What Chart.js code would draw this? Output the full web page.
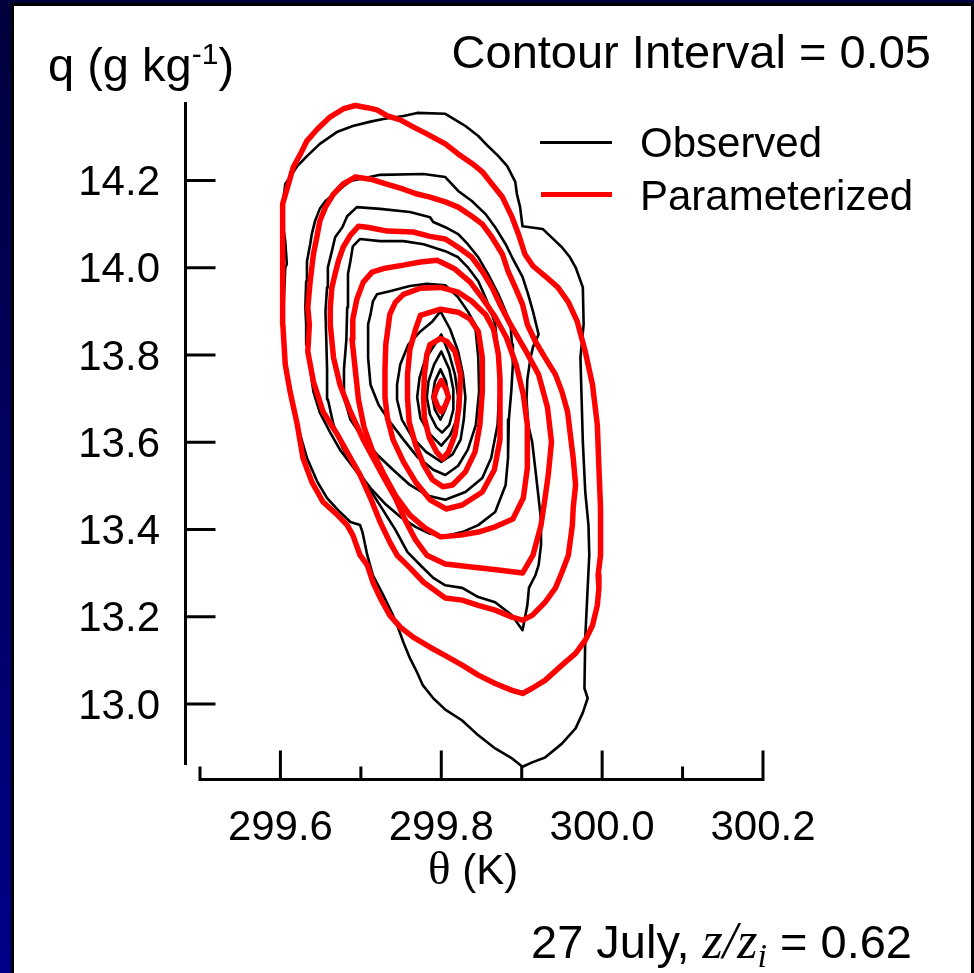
<!DOCTYPE html>
<html>
<head>
<meta charset="utf-8">
<script src="https://cdn.jsdelivr.net/npm/chart.js@4.4.0/dist/chart.umd.min.js"></script>
<style>
  html, body { margin: 0; padding: 0; }
  body {
    width: 974px; height: 973px; overflow: hidden; position: relative;
    background: linear-gradient(to bottom, #00003c 0%, #000088 100%);
    font-family: "Liberation Sans", Arial, sans-serif; color: #000;
  }
  #panel {
    position: absolute; left: 11px; top: 3px; width: 963px; height: 980px;
    background: #fff; box-sizing: border-box;
    border-left: 3px solid #000; border-top: 3px solid #000; border-right: 3px solid #000;
  }
  #chart { position: absolute; left: 0; top: 0; }
  .t { position: absolute; white-space: nowrap; line-height: 1; }
  .big { font-size: 47px; }
  .mid { font-size: 42px; }
  .serif { font-family: "Liberation Serif", "Times New Roman", serif; }
  .swatch { position: absolute; height: 0; }
</style>
</head>
<body>
<div id="panel"></div>
<canvas id="chart" width="974" height="973"></canvas>

<div class="t big" style="left:48px; top:41px;">q (g kg<span style="font-size:30px; position:relative; top:-17px;">-1</span>)</div>
<div class="t big" style="right:43px; top:28px;">Contour Interval = 0.05</div>

<div class="swatch" style="left:540px; top:141px; width:72px; border-top:3px solid #000;"></div>
<div class="t mid" style="left:640px; top:122px;">Observed</div>
<div class="swatch" style="left:541px; top:192px; width:71px; border-top:5px solid #ff0000;"></div>
<div class="t mid" style="left:640px; top:175px;">Parameterized</div>

<div class="t mid" style="left:428px; top:845px;"><span class="serif" style="font-size:47px;">&theta;</span> (K)</div>
<div class="t big" style="right:62px; top:915px;">27 July, <span class="serif" style="font-style:italic; font-size:52px;">z/z<span style="font-size:34px; position:relative; top:9px;">i</span></span> = 0.62</div>

<script>
// axis ticks
const xMajorTicks = [299.6, 299.8, 300.0, 300.2];
const xMinorTicks = [299.5, 299.7, 299.9, 300.1];
const yTicks = [13.0, 13.2, 13.4, 13.6, 13.8, 14.0, 14.2];

// observed contours (theta K, q g/kg), outermost first
const obs1 = [[299.690,14.325],[299.712,14.335],[299.728,14.341],[299.753,14.348],[299.770,14.355],[299.805,14.353],[299.821,14.335],[299.830,14.325],[299.846,14.302],[299.858,14.279],[299.871,14.256],[299.882,14.233],[299.892,14.197],[299.894,14.169],[299.898,14.139],[299.901,14.095],[299.926,14.089],[299.942,14.061],[299.950,14.047],[299.960,14.024],[299.967,14.001],[299.976,13.955],[299.977,13.870],[299.973,13.794],[299.976,13.601],[299.979,13.486],[299.983,13.410],[299.984,13.341],[299.982,13.266],[299.979,13.151],[299.978,13.036],[299.982,13.013],[299.976,12.980],[299.967,12.944],[299.950,12.909],[299.929,12.877],[299.913,12.866],[299.901,12.856],[299.888,12.875],[299.867,12.898],[299.846,12.928],[299.826,12.962],[299.805,12.987],[299.790,13.013],[299.777,13.043],[299.770,13.072],[299.761,13.105],[299.753,13.141],[299.746,13.176],[299.740,13.203],[299.728,13.249],[299.715,13.295],[299.708,13.341],[299.702,13.394],[299.699,13.410],[299.687,13.417],[299.674,13.440],[299.658,13.472],[299.646,13.509],[299.633,13.564],[299.621,13.640],[299.612,13.716],[299.606,13.794],[299.603,13.870],[299.606,14.001],[299.608,14.008],[299.606,14.061],[299.603,14.100],[299.603,14.146],[299.606,14.192],[299.612,14.208],[299.621,14.233],[299.633,14.256],[299.649,14.284],[299.671,14.312]];
const obs2 = [[299.687,14.199],[299.724,14.213],[299.778,14.215],[299.805,14.208],[299.821,14.176],[299.838,14.153],[299.855,14.123],[299.867,14.093],[299.880,14.054],[299.888,14.024],[299.901,13.979],[299.908,13.939],[299.914,13.900],[299.918,13.870],[299.921,13.847],[299.914,13.818],[299.911,13.794],[299.907,13.744],[299.906,13.698],[299.908,13.640],[299.913,13.601],[299.917,13.537],[299.921,13.472],[299.924,13.422],[299.924,13.364],[299.921,13.318],[299.917,13.295],[299.909,13.266],[299.907,13.226],[299.901,13.169],[299.888,13.203],[299.867,13.233],[299.846,13.245],[299.826,13.266],[299.805,13.272],[299.790,13.289],[299.774,13.318],[299.758,13.348],[299.743,13.399],[299.726,13.449],[299.709,13.498],[299.690,13.544],[299.674,13.583],[299.662,13.622],[299.649,13.668],[299.641,13.716],[299.637,13.767],[299.633,13.824],[299.632,13.870],[299.631,13.909],[299.632,13.969],[299.633,14.015],[299.637,14.054],[299.639,14.077],[299.643,14.107],[299.649,14.135],[299.656,14.153],[299.671,14.176]];
const obs3 = [[299.695,14.139],[299.724,14.135],[299.761,14.128],[299.786,14.116],[299.790,14.105],[299.805,14.093],[299.821,14.077],[299.833,14.054],[299.846,14.024],[299.858,13.986],[299.871,13.939],[299.880,13.900],[299.886,13.870],[299.888,13.824],[299.889,13.778],[299.887,13.716],[299.884,13.652],[299.883,13.564],[299.880,13.502],[299.867,13.440],[299.846,13.410],[299.826,13.394],[299.805,13.385],[299.786,13.390],[299.768,13.406],[299.749,13.429],[299.730,13.459],[299.712,13.495],[299.693,13.541],[299.677,13.588],[299.666,13.640],[299.659,13.698],[299.658,13.767],[299.657,13.836],[299.656,13.900],[299.658,13.955],[299.659,14.001],[299.664,14.038],[299.668,14.070],[299.677,14.093],[299.683,14.118]];
const obs4 = [[299.690,14.049],[299.699,14.066],[299.724,14.061],[299.753,14.061],[299.778,14.054],[299.805,14.038],[299.821,14.024],[299.833,14.001],[299.846,13.969],[299.855,13.932],[299.863,13.893],[299.867,13.870],[299.871,13.794],[299.872,13.716],[299.870,13.640],[299.862,13.564],[299.851,13.518],[299.830,13.486],[299.805,13.468],[299.784,13.477],[299.761,13.502],[299.740,13.537],[299.720,13.572],[299.702,13.611],[299.687,13.652],[299.679,13.703],[299.679,13.767],[299.682,13.836],[299.683,13.909],[299.684,13.986],[299.687,14.015]];
const obs5 = [[299.715,13.923],[299.720,13.939],[299.736,13.946],[299.761,13.958],[299.782,13.963],[299.805,13.960],[299.821,13.932],[299.833,13.900],[299.842,13.870],[299.846,13.794],[299.847,13.716],[299.843,13.640],[299.833,13.583],[299.821,13.546],[299.805,13.525],[299.790,13.537],[299.770,13.567],[299.753,13.606],[299.736,13.647],[299.722,13.686],[299.712,13.732],[299.709,13.794],[299.709,13.870],[299.712,13.893]];
const obs6 = [[299.799,13.900],[299.789,13.877],[299.774,13.854],[299.759,13.824],[299.749,13.778],[299.745,13.732],[299.745,13.698],[299.751,13.652],[299.764,13.611],[299.781,13.578],[299.800,13.555],[299.814,13.572],[299.824,13.606],[299.828,13.652],[299.830,13.703],[299.827,13.755],[299.821,13.808],[299.811,13.859]];
const obs7 = [[299.800,13.847],[299.792,13.824],[299.780,13.790],[299.773,13.748],[299.770,13.703],[299.774,13.656],[299.784,13.622],[299.800,13.592],[299.811,13.616],[299.819,13.652],[299.821,13.703],[299.817,13.755],[299.810,13.801]];
const obs8 = [[299.800,13.808],[299.791,13.778],[299.784,13.739],[299.782,13.703],[299.786,13.663],[299.794,13.634],[299.801,13.622],[299.810,13.640],[299.815,13.675],[299.815,13.721],[299.810,13.767]];
const obs9 = [[299.799,13.767],[299.792,13.739],[299.789,13.703],[299.792,13.675],[299.799,13.652],[299.805,13.675],[299.809,13.703],[299.806,13.739]];

// parameterized contours, outermost first
const par1 = [[299.693,14.372],[299.708,14.367],[299.720,14.362],[299.733,14.348],[299.749,14.339],[299.765,14.323],[299.782,14.307],[299.805,14.284],[299.821,14.261],[299.839,14.238],[299.851,14.220],[299.863,14.192],[299.876,14.162],[299.888,14.116],[299.896,14.077],[299.904,14.031],[299.914,14.004],[299.929,13.981],[299.945,13.955],[299.958,13.921],[299.969,13.877],[299.979,13.808],[299.988,13.732],[299.994,13.640],[299.996,13.541],[299.998,13.449],[299.998,13.341],[299.995,13.295],[299.996,13.266],[299.994,13.226],[299.988,13.180],[299.979,13.146],[299.967,13.116],[299.950,13.089],[299.929,13.054],[299.913,13.036],[299.901,13.024],[299.888,13.031],[299.867,13.047],[299.846,13.066],[299.826,13.089],[299.805,13.111],[299.786,13.130],[299.765,13.153],[299.749,13.176],[299.736,13.203],[299.724,13.243],[299.715,13.279],[299.708,13.318],[299.699,13.341],[299.690,13.387],[299.683,13.410],[299.671,13.433],[299.653,13.463],[299.639,13.509],[299.628,13.564],[299.621,13.640],[299.612,13.716],[299.606,13.778],[299.603,13.870],[299.603,13.939],[299.603,14.015],[299.602,14.093],[299.603,14.146],[299.610,14.192],[299.616,14.231],[299.625,14.261],[299.633,14.291],[299.646,14.318],[299.662,14.346],[299.678,14.364]];
const par2 = [[299.693,14.208],[299.712,14.203],[299.728,14.194],[299.753,14.180],[299.770,14.169],[299.786,14.162],[299.805,14.151],[299.821,14.139],[299.838,14.118],[299.851,14.100],[299.863,14.070],[299.876,14.031],[299.883,13.992],[299.892,13.955],[299.901,13.916],[299.907,13.870],[299.917,13.831],[299.929,13.794],[299.942,13.755],[299.950,13.716],[299.957,13.670],[299.960,13.624],[299.964,13.564],[299.967,13.502],[299.964,13.449],[299.963,13.410],[299.958,13.341],[299.950,13.302],[299.942,13.266],[299.929,13.233],[299.913,13.203],[299.901,13.192],[299.888,13.199],[299.867,13.215],[299.846,13.226],[299.826,13.238],[299.805,13.243],[299.778,13.279],[299.761,13.312],[299.745,13.341],[299.736,13.371],[299.724,13.417],[299.712,13.472],[299.699,13.525],[299.687,13.564],[299.671,13.617],[299.653,13.670],[299.641,13.739],[299.634,13.808],[299.636,13.870],[299.634,13.909],[299.637,13.969],[299.641,14.031],[299.646,14.077],[299.649,14.107],[299.656,14.139],[299.666,14.169],[299.678,14.192]];
const par3 = [[299.697,14.095],[299.708,14.093],[299.733,14.084],[299.765,14.082],[299.786,14.072],[299.805,14.066],[299.821,14.047],[299.838,14.024],[299.851,13.992],[299.863,13.955],[299.873,13.916],[299.886,13.870],[299.904,13.813],[299.921,13.755],[299.932,13.680],[299.937,13.601],[299.933,13.525],[299.929,13.472],[299.924,13.410],[299.914,13.341],[299.901,13.300],[299.871,13.307],[299.846,13.312],[299.805,13.321],[299.782,13.341],[299.768,13.376],[299.755,13.422],[299.743,13.472],[299.730,13.514],[299.718,13.555],[299.703,13.606],[299.687,13.670],[299.674,13.732],[299.666,13.794],[299.662,13.870],[299.662,13.909],[299.664,13.955],[299.668,13.986],[299.672,14.015],[299.678,14.047],[299.687,14.075]];
const par4 = [[299.795,14.017],[299.817,13.997],[299.836,13.967],[299.852,13.928],[299.867,13.887],[299.881,13.840],[299.893,13.778],[299.902,13.709],[299.907,13.640],[299.907,13.541],[299.902,13.472],[299.889,13.424],[299.867,13.406],[299.846,13.394],[299.824,13.387],[299.799,13.383],[299.780,13.403],[299.761,13.433],[299.744,13.475],[299.729,13.525],[299.715,13.578],[299.704,13.634],[299.697,13.698],[299.693,13.767],[299.689,13.836],[299.690,13.882],[299.695,13.928],[299.703,13.967],[299.714,13.990],[299.730,13.999],[299.753,14.006],[299.774,14.013]];
const par5 = [[299.753,13.939],[299.774,13.953],[299.799,13.955],[299.821,13.944],[299.838,13.923],[299.855,13.893],[299.865,13.859],[299.871,13.801],[299.873,13.744],[299.873,13.675],[299.873,13.606],[299.866,13.537],[299.851,13.486],[299.826,13.456],[299.806,13.447],[299.786,13.468],[299.768,13.509],[299.753,13.555],[299.740,13.606],[299.733,13.656],[299.730,13.703],[299.730,13.767],[299.731,13.824],[299.736,13.893],[299.743,13.921]];
const par6 = [[299.774,13.891],[299.799,13.905],[299.821,13.898],[299.836,13.882],[299.846,13.854],[299.851,13.794],[299.851,13.716],[299.848,13.640],[299.842,13.578],[299.830,13.532],[299.814,13.502],[299.802,13.498],[299.789,13.514],[299.778,13.548],[299.768,13.594],[299.760,13.647],[299.758,13.703],[299.758,13.755],[299.761,13.813],[299.768,13.859]];
const par7 = [[299.786,13.824],[299.799,13.838],[299.807,13.831],[299.817,13.808],[299.824,13.755],[299.822,13.680],[299.817,13.617],[299.809,13.578],[299.802,13.562],[299.794,13.578],[299.785,13.611],[299.779,13.656],[299.778,13.703],[299.779,13.755],[299.782,13.801]];
const par8 = [[299.800,13.741],[299.806,13.721],[299.809,13.703],[299.805,13.684],[299.800,13.670],[299.795,13.684],[299.791,13.703],[299.794,13.721]];

const observed = [obs1, obs2, obs3, obs4, obs5, obs6, obs7, obs8, obs9];
const parameterized = [par1, par2, par3, par4, par5, par6, par7, par8];

const font = "'Liberation Sans', Arial, sans-serif";

function closedLine(c) {
  const pts = c.map(p => ({ x: p[0], y: p[1] }));
  pts.push({ x: c[0][0], y: c[0][1] });
  return pts;
}

const datasets = [];
observed.forEach((c, i) => datasets.push({
  label: i === 0 ? 'Observed' : '',
  data: closedLine(c),
  borderColor: '#000000', borderWidth: 2.6, order: 2
}));
parameterized.forEach((c, i) => datasets.push({
  label: i === 0 ? 'Parameterized' : '',
  data: closedLine(c),
  borderColor: '#ff0000', borderWidth: 5.5, order: 1
}));
datasets.forEach(d => Object.assign(d, {
  showLine: true, pointRadius: 0, fill: false, tension: 0, clip: false,
  borderJoinStyle: 'round', borderCapStyle: 'round'
}));

// axis lines and inward tick marks, offset from the plot like the original
const axesPlugin = {
  id: 'axes',
  afterDraw(chart) {
    const { ctx, chartArea: a, scales: { x, y } } = chart;
    ctx.save();
    ctx.strokeStyle = '#000';
    ctx.lineWidth = 3;
    ctx.beginPath();
    const yAxisX = a.left - 14.5;
    ctx.moveTo(yAxisX, a.top);
    ctx.lineTo(yAxisX, a.bottom);
    yTicks.forEach(v => {
      const py = y.getPixelForValue(v);
      ctx.moveTo(yAxisX, py);
      ctx.lineTo(yAxisX + 30, py);
    });
    const xAxisY = a.bottom + 14.5;
    ctx.moveTo(a.left - 1.5, xAxisY);
    ctx.lineTo(a.right + 1.5, xAxisY);
    xMajorTicks.forEach(v => {
      const px = x.getPixelForValue(v);
      ctx.moveTo(px, xAxisY);
      ctx.lineTo(px, xAxisY - 29);
    });
    xMinorTicks.forEach(v => {
      const px = x.getPixelForValue(v);
      ctx.moveTo(px, xAxisY);
      ctx.lineTo(px, xAxisY - 13);
    });
    ctx.stroke();
    ctx.restore();
  }
};

new Chart(document.getElementById('chart').getContext('2d'), {
  type: 'scatter',
  data: { datasets },
  options: {
    responsive: false,
    animation: false,
    layout: { padding: { left: 0, right: 211, top: 102, bottom: 108 } },
    plugins: { legend: { display: false }, tooltip: { enabled: false } },
    scales: {
      x: {
        type: 'linear', min: 299.5, max: 300.2,
        afterBuildTicks: s => { s.ticks = xMajorTicks.map(v => ({ value: v })); },
        afterFit: s => { s.height = 100; },
        border: { display: false },
        grid: { display: false, drawTicks: false },
        ticks: {
          color: '#000', font: { family: font, size: 42 }, padding: 38,
          maxRotation: 0, autoSkip: false, callback: v => v.toFixed(1)
        }
      },
      y: {
        type: 'linear', min: 12.86, max: 14.38,
        afterBuildTicks: s => { s.ticks = yTicks.map(v => ({ value: v })); },
        afterFit: s => { s.width = 200; },
        border: { display: false },
        grid: { display: false, drawTicks: false },
        ticks: {
          color: '#000', font: { family: font, size: 42 }, padding: 40, labelOffset: 3,
          autoSkip: false, callback: v => v.toFixed(1)
        }
      }
    }
  },
  plugins: [axesPlugin]
});
</script>
</body>
</html>
